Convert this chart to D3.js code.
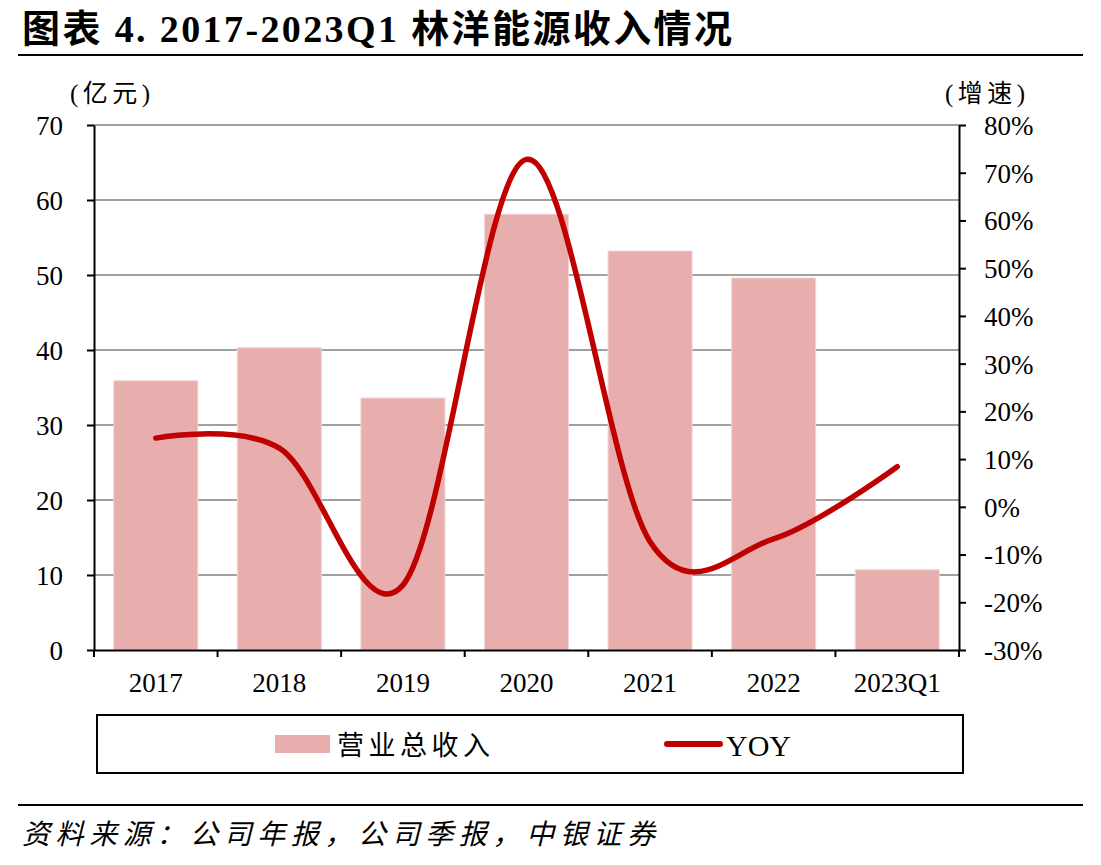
<!DOCTYPE html>
<html><head><meta charset="utf-8">
<script src="https://cdn.jsdelivr.net/npm/d3@7"></script>
<style>
html,body{margin:0;padding:0;background:#fff;}
svg{display:block;}
</style></head>
<body>
<svg id="c" width="1101" height="865"></svg>
<script>
const categories = ["2017","2018","2019","2020","2021","2022","2023Q1"];
const revenue = [35.9, 40.3, 33.6, 58.1, 53.2, 49.6, 10.7];
const yoy = [14.4, 12.3, -16.4, 72.8, -7.3, -6.7, 8.4];
const leftTicks = [0,10,20,30,40,50,60,70];
const rightTicks = [-30,-20,-10,0,10,20,30,40,50,60,70,80];
const titleText = "图表 4. 2017-2023Q1 林洋能源收入情况";
const sourceText = "资料来源：公司年报，公司季报，中银证券";
const legendLabels = ["营业总收入","YOY"];

const svg = d3.select("#c");
const serif = "'Liberation Serif','Times New Roman','Noto Sans CJK SC',serif";
const cjk = "'Liberation Serif','Noto Sans CJK SC',sans-serif";
const barColor = "#E8AEAE", lineColor = "#C00000";

const X0 = 94, X1 = 959, Y0 = 650, Y1 = 125;
const x = d3.scaleBand().domain(categories).range([X0, X1]).paddingInner(0.32).paddingOuter(0.16);
const yL = d3.scaleLinear().domain([0,70]).range([Y0, Y1]);
const yR = d3.scaleLinear().domain([-30,80]).range([Y0, Y1]);

// title
svg.append("text").attr("x",22).attr("y",42).attr("font-family",cjk).attr("font-weight","bold")
  .attr("font-size",38).attr("fill","#000")
  .attr("textLength",710).attr("lengthAdjust","spacing").text(titleText);
svg.append("line").attr("x1",18).attr("x2",1083).attr("y1",55).attr("y2",55).attr("stroke","#000").attr("stroke-width",2);

// units
svg.append("text").attr("x",70).attr("y",102).attr("font-family",cjk).attr("font-size",25)
  .attr("textLength",80).attr("lengthAdjust","spacing").text("(亿元)");
svg.append("text").attr("x",945).attr("y",102).attr("font-family",cjk).attr("font-size",25)
  .attr("textLength",80).attr("lengthAdjust","spacing").text("(增速)");

// gridlines
svg.append("g").selectAll("line").data(leftTicks.filter(d=>d>0)).join("line")
  .attr("x1",X0).attr("x2",X1).attr("y1",d=>yL(d)).attr("y2",d=>yL(d))
  .attr("stroke","#A0A0A0").attr("stroke-width",2);

// bars
svg.append("g").selectAll("rect").data(categories).join("rect")
  .attr("x",d=>x(d)).attr("width",x.bandwidth())
  .attr("y",(d,i)=>yL(revenue[i])).attr("height",(d,i)=>Y0-yL(revenue[i]))
  .attr("fill",barColor).attr("stroke","#F3D3D3").attr("stroke-width",1);

// line
const pts = categories.map((c,i)=>[x(c)+x.bandwidth()/2, yR(yoy[i])]);
svg.append("path").attr("d", d3.line().curve(d3.curveCatmullRom.alpha(0))(pts))
  .attr("fill","none").attr("stroke",lineColor).attr("stroke-width",5.5)
  .attr("stroke-linecap","round").attr("stroke-linejoin","round");

// left axis
const gL = svg.append("g").attr("transform",`translate(${X0},0)`)
  .call(d3.axisLeft(yL).tickValues(leftTicks).tickSize(7).tickPadding(24).tickSizeOuter(0));
// right axis
const gR = svg.append("g").attr("transform",`translate(${X1},0)`)
  .call(d3.axisRight(yR).tickValues(rightTicks).tickSize(7).tickPadding(18).tickSizeOuter(0).tickFormat(d=>d+"%"));
// x axis
const gX = svg.append("g").attr("transform",`translate(0,${Y0})`)
  .call(d3.axisBottom(x).tickSize(0).tickPadding(23).tickSizeOuter(0));
// x boundary ticks
const step = x.step();
svg.append("g").selectAll("line").data(d3.range(categories.length+1)).join("line")
  .attr("x1",i=>X0+i*step).attr("x2",i=>X0+i*step).attr("y1",Y0).attr("y2",Y0+7)
  .attr("stroke","#000").attr("stroke-width",2);

[gL,gR,gX].forEach(g=>{
  g.selectAll("path").attr("stroke","#000").attr("stroke-width",2);
  g.selectAll("line").attr("stroke","#000").attr("stroke-width",2);
  g.selectAll("text").attr("font-family",serif).attr("font-size",27).attr("fill","#000");
});
gL.selectAll("text").attr("dy","0.35em");
gR.selectAll("text").attr("dy","0.35em");

// legend
svg.append("rect").attr("x",97).attr("y",715).attr("width",866).attr("height",58)
  .attr("fill","none").attr("stroke","#000").attr("stroke-width",2);
svg.append("rect").attr("x",275).attr("y",735).attr("width",55).attr("height",18).attr("fill",barColor);
svg.append("text").attr("x",337).attr("y",755).attr("font-family",cjk).attr("font-size",27)
  .attr("textLength",153).attr("lengthAdjust","spacing").text(legendLabels[0]);
svg.append("line").attr("x1",667).attr("x2",720).attr("y1",744).attr("y2",744)
  .attr("stroke",lineColor).attr("stroke-width",6).attr("stroke-linecap","round");
svg.append("text").attr("x",726).attr("y",756).attr("font-family",serif).attr("font-size",30).text(legendLabels[1]);

// bottom
svg.append("line").attr("x1",18).attr("x2",1083).attr("y1",805).attr("y2",805).attr("stroke","#000").attr("stroke-width",2);
svg.append("text").attr("x",22).attr("y",844).attr("font-family",cjk).attr("font-style","italic")
  .attr("font-size",28).attr("textLength",633).attr("lengthAdjust","spacing").text(sourceText);
</script>
</body></html>
